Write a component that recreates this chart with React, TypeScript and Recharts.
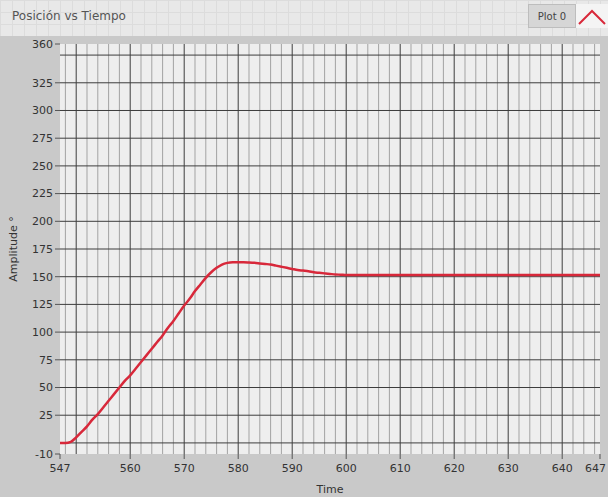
import React from "react";
import { LineChart, Line, XAxis, YAxis, CartesianGrid } from "recharts";

// seconds on the time axis
const time = [
  547, 548, 549, 550, 551, 552, 553, 554, 555, 556, 557, 558, 559, 560, 561, 562, 563, 564,
  565, 566, 567, 568, 569, 570, 571, 572, 573, 574, 575, 576, 577, 578, 579, 580, 581, 582,
  583, 584, 585, 586, 587, 588, 589, 590, 591, 592, 593, 594, 595, 596, 597, 598, 599, 600,
  605, 610, 615, 620, 625, 630, 635, 640, 645, 647,
];

// position in degrees
const amplitude = [
  0, 0, 1, 5, 10, 15, 21, 26, 32, 38, 44, 50, 56, 61, 67, 73, 79, 85,
  91, 97, 104, 110, 117, 124, 130, 137, 143, 149, 154, 158, 161, 162.5, 163, 163, 163, 162.8,
  162.5, 162, 161.5, 161, 160, 159, 158, 157, 156, 155.5, 155, 154, 153.5, 153, 152.5, 152, 151.8, 151.5,
  151.5, 151.5, 151.5, 151.5, 151.5, 151.5, 151.5, 151.5, 151.5, 151.5,
];

const xTicks = [547, 560, 570, 580, 590, 600, 610, 620, 630, 640, 647];
const yTicks = [-10, 25, 50, 75, 100, 125, 150, 175, 200, 225, 250, 275, 300, 325, 360];
const xMajor = [550, 560, 570, 580, 590, 600, 610, 620, 630, 640];
const yMajor = [0, 25, 50, 75, 100, 125, 150, 175, 200, 225, 250, 275, 300, 325, 350];
const xMinor = [
  548, 552, 554, 556, 558, 562, 564, 566, 568, 572, 574, 576, 578, 582, 584, 586, 588,
  592, 594, 596, 598, 602, 604, 606, 608, 612, 614, 616, 618, 622, 624, 626, 628,
  632, 634, 636, 638, 642, 644, 646,
];

const data = time.map((t, i) => ({ time: t, value: amplitude[i] }));

const font = "'DejaVu Sans', sans-serif";

// last label would run off the right edge, so keep it inside
const XTick = (props: any) => {
  const { x, y, payload } = props;
  const last = payload.value === xTicks[xTicks.length - 1];
  return (
    <text
      x={x}
      y={y}
      dy="0.71em"
      textAnchor={last ? "end" : "middle"}
      dx={last ? 6 : 0}
      fontSize={11}
      fill="#333"
      fontFamily={font}
    >
      {payload.value}
    </text>
  );
};

export default function App() {
  return (
    <div
      style={{
        position: "absolute",
        left: 0,
        top: 0,
        width: 608,
        height: 497,
        background: "#c9c9c9",
        overflow: "hidden",
      }}
    >
      <div
        style={{
          position: "absolute",
          left: 0,
          top: 0,
          width: 608,
          height: 36,
          background: "#e8e8e8",
          backgroundImage:
            "linear-gradient(#dcdcdc 1px, transparent 1px), linear-gradient(90deg, #dcdcdc 1px, transparent 1px)",
          backgroundSize: "12px 12px",
        }}
      />
      <div
        style={{
          position: "absolute",
          left: 12,
          top: 9,
          fontFamily: font,
          fontSize: 12,
          color: "#555",
        }}
      >
        Posición vs Tiempo
      </div>
      <div style={{ position: "absolute", right: 0, top: 4, display: "flex", height: 24, fontFamily: font }}>
        <div
          style={{
            width: 46,
            background: "#d6d6d6",
            border: "1px solid #bdbdbd",
            fontSize: 10,
            color: "#444",
            display: "flex",
            alignItems: "center",
            justifyContent: "center",
          }}
        >
          Plot 0
        </div>
        <svg width={32} height={24} style={{ background: "#f4f4f4" }}>
          <polyline points="3,20 16,7 29,20" fill="none" stroke="#d8283a" strokeWidth={2} />
        </svg>
      </div>
      <LineChart
        width={608}
        height={497}
        data={data}
        margin={{ top: 44, right: 8, bottom: 0, left: 0 }}
        style={{ position: "absolute", left: 0, top: 0 }}
      >
        <CartesianGrid
          fill="#eeeeee"
          stroke="#a3a3a3"
          horizontal={false}
          verticalValues={xMinor}
        />
        <CartesianGrid
          stroke="#3d3d3d"
          horizontalValues={yMajor}
          verticalValues={xMajor}
        />
        <XAxis
          dataKey="time"
          type="number"
          domain={[547, 647]}
          ticks={xTicks}
          height={43}
          axisLine={false}
          tickSize={5}
          tickMargin={5}
          tickLine={{ stroke: "#555" }}
          tick={<XTick />}
          interval={0}
          label={{
            value: "Time",
            position: "insideBottom",
            offset: 4,
            style: { fontSize: 11, fill: "#333", fontFamily: font },
          }}
        />
        <YAxis
          type="number"
          domain={[-10, 360]}
          ticks={yTicks}
          width={60}
          axisLine={false}
          tickSize={5}
          tickMargin={2}
          tickLine={{ stroke: "#555" }}
          tick={{ fontSize: 11, fill: "#333", fontFamily: font }}
          interval={0}
          label={{
            value: "Amplitude °",
            angle: -90,
            position: "center",
            dx: -17,
            style: { fontSize: 11, fill: "#333", fontFamily: font, textAnchor: "middle" },
          }}
        />
        <Line
          type="monotone"
          dataKey="value"
          stroke="#d8283a"
          strokeWidth={2.5}
          dot={false}
          isAnimationActive={false}
        />
      </LineChart>
    </div>
  );
}
